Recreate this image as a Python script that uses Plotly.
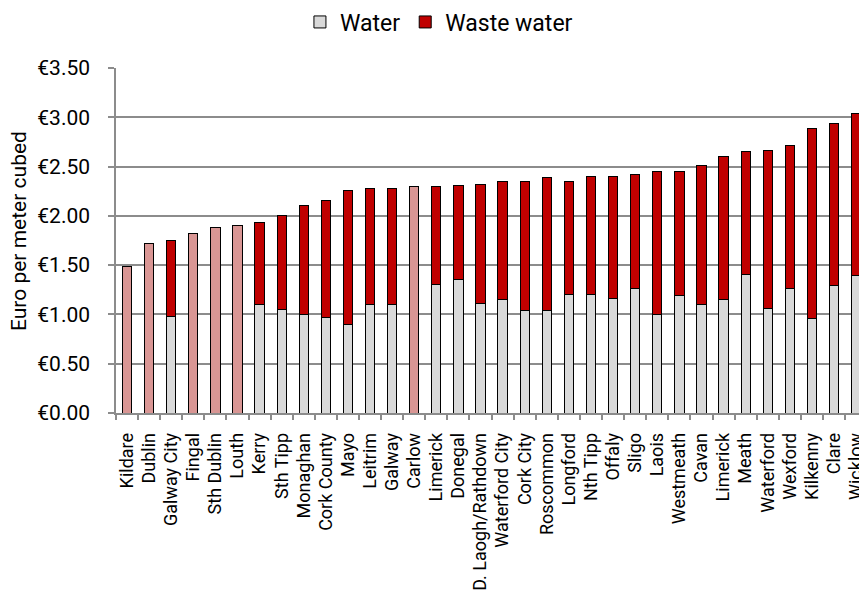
import plotly.graph_objects as go

categories = ["Kildare", "Dublin", "Galway City", "Fingal", "Sth Dublin", "Louth", "Kerry",
              "Sth Tipp", "Monaghan", "Cork County", "Mayo", "Leitrim", "Galway", "Carlow",
              "Limerick", "Donegal", "D. Laogh/Rathdown", "Waterford City", "Cork City",
              "Roscommon", "Longford", "Nth Tipp", "Offaly", "Sligo", "Laois", "Westmeath",
              "Cavan", "Limerick", "Meath", "Waterford", "Wexford", "Kilkenny", "Clare", "Wicklow"]

# Combined single charge (no split shown)
combined = [1.49, 1.72, None, 1.82, 1.88, 1.90, None, None, None, None, None, None, None, 2.30,
            None, None, None, None, None, None, None, None, None, None, None, None, None, None,
            None, None, None, None, None, None]

water = [None, None, 0.98, None, None, None, 1.10, 1.05, 1.00, 0.97, 0.90, 1.10, 1.10, None,
         1.30, 1.35, 1.11, 1.15, 1.04, 1.04, 1.20, 1.20, 1.16, 1.26, 1.00, 1.19, 1.10, 1.15,
         1.41, 1.06, 1.26, 0.96, 1.29, 1.40]

total = [None, None, 1.75, None, None, None, 1.93, 2.00, 2.11, 2.16, 2.26, 2.28, 2.28, None,
         2.30, 2.31, 2.32, 2.35, 2.35, 2.39, 2.35, 2.40, 2.40, 2.42, 2.45, 2.45, 2.51, 2.60,
         2.65, 2.66, 2.71, 2.89, 2.94, 3.04]

waste_water = [None if (t is None or w is None) else round(t - w, 2) for t, w in zip(total, water)]

y_ticks = [0, 0.5, 1.0, 1.5, 2.0, 2.5, 3.0, 3.5]
y_tick_labels = ["€0.00", "€0.50", "€1.00", "€1.50", "€2.00", "€2.50", "€3.00", "€3.50"]
y_title = "Euro per meter cubed"

xpos = list(range(len(categories)))
FONT = "Roboto"
line = dict(color="black", width=1)

fig = go.Figure()
fig.add_trace(go.Bar(x=xpos, y=water, name="Water",
                     marker=dict(color="#d9d9d9", line=line), width=0.42))
fig.add_trace(go.Bar(x=xpos, y=waste_water, name="Waste water",
                     marker=dict(color="#c00000", line=line), width=0.42))
fig.add_trace(go.Bar(x=xpos, y=combined, name="Combined", showlegend=False,
                     marker=dict(color="#d99694", line=line), width=0.42))

fig.update_layout(
    barmode="stack",
    width=859, height=591,
    paper_bgcolor="white", plot_bgcolor="white",
    margin=dict(l=116, r=0, t=68, b=178, autoexpand=False),
    font=dict(family=FONT, color="black", size=16),
    legend=dict(orientation="h", x=0.511, xanchor="center", xref="container",
                y=1 - 22 / 591, yanchor="middle", yref="container",
                font=dict(size=23, family=FONT), traceorder="normal",
                itemwidth=30, tracegroupgap=0),
    showlegend=True,
    annotations=[dict(text=y_title, textangle=-90, showarrow=False,
                      xref="paper", yref="paper", x=(19 - 116) / 743, y=(413 - 231) / 345,
                      xanchor="center", yanchor="middle",
                      font=dict(size=21, family=FONT, color="black"))],
)

fig.update_xaxes(
    range=[-0.5, 33.13], automargin=False,
    tickmode="array", tickvals=xpos, ticktext=categories,
    tickangle=-90, ticks="", tickfont=dict(size=18, family=FONT),
    ticklabelstandoff=11, ticklabeloverflow="allow",
    showline=True, linecolor="#8c8c8c", linewidth=1.5,
    showgrid=False, zeroline=False,
    minor=dict(tickmode="array", tickvals=[i - 0.5 for i in xpos] + [len(xpos) - 0.5],
               ticks="outside", ticklen=5, tickcolor="#8c8c8c", tickwidth=1.5, showgrid=False),
)

fig.update_yaxes(
    range=[0, 3.5], automargin=False,
    tickmode="array", tickvals=y_ticks, ticktext=y_tick_labels,
    ticks="outside", ticklen=6, tickcolor="#8c8c8c", tickwidth=1.5,
    tickfont=dict(size=21, family=FONT), ticklabelstandoff=14,
    showline=True, linecolor="#8c8c8c", linewidth=1.5,
    showgrid=True, gridcolor="#8c8c8c", gridwidth=1.5,
    zeroline=False,
)

fig.write_html("out.html", config={"displayModeBar": False},
               post_script="document.body.style.margin='0';document.body.style.overflow='hidden';")
